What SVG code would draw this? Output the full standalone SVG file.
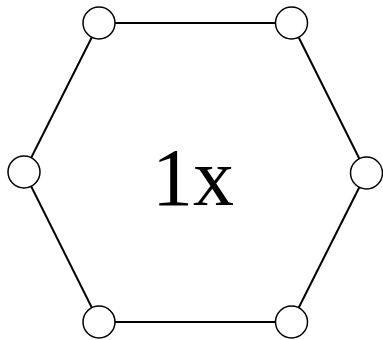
<svg xmlns="http://www.w3.org/2000/svg" width="383" height="340" viewBox="0 0 383 340">
<style>
.edge{stroke:#000;stroke-width:2;fill:none}
.node{fill:#fff;stroke:#000;stroke-width:1.5}
.label{font-family:"Liberation Serif","Times New Roman",serif;font-size:82px;fill:#000;text-anchor:middle}
</style>
<rect width="383" height="340" fill="#fff"/>
<g id="connectors">
<line class="edge" x1="99" y1="23" x2="291.5" y2="23"/>
<line class="edge" x1="291.5" y1="23" x2="366.5" y2="173"/>
<line class="edge" x1="366.5" y1="173" x2="291.5" y2="322"/>
<line class="edge" x1="291.5" y1="322" x2="99" y2="322"/>
<line class="edge" x1="99" y1="322" x2="24" y2="172"/>
<line class="edge" x1="24" y1="172" x2="99" y2="23"/>
</g>
<g id="n1"><circle class="node" cx="99" cy="23" r="16"/></g>
<g id="n2"><circle class="node" cx="291.5" cy="23" r="16"/></g>
<g id="n3"><circle class="node" cx="366.5" cy="173" r="16"/></g>
<g id="n4"><circle class="node" cx="291.5" cy="322" r="16"/></g>
<g id="n5"><circle class="node" cx="99" cy="322" r="16"/></g>
<g id="n6"><circle class="node" cx="24" cy="172" r="16"/></g>
<g id="center"><text class="label" x="193" y="205">1x</text></g>
</svg>
